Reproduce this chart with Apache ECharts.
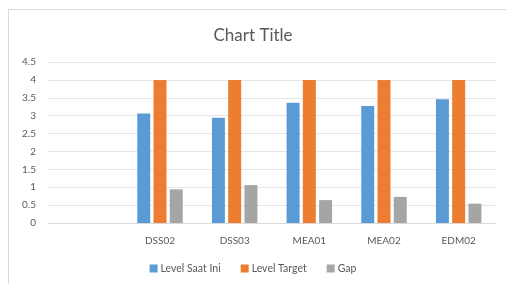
<!DOCTYPE html>
<html>
<head>
<meta charset="utf-8">
<script src="https://cdn.jsdelivr.net/npm/echarts@6/dist/echarts.min.js"></script>
<style>
  html, body { margin: 0; padding: 0; background: #fff; }
  #frame {
    position: absolute; left: 8px; top: 9px; width: 506px; height: 284px;
    border-left: 1px solid #d9d9d9; border-top: 1px solid #d9d9d9;
  }
  #chart { position: absolute; left: 0; top: 0; width: 506px; height: 284px; }
</style>
</head>
<body>
<div id="frame"></div>
<div id="chart"></div>
<script>
// kategori (slot pertama kosong seperti di Excel)
var categories = ["", "DSS02", "DSS03", "MEA01", "MEA02", "EDM02"];
var levelSaatIni = [null, 3.06, 2.94, 3.36, 3.27, 3.46];
var levelTarget = [null, 4, 4, 4, 4, 4];
var gap = [null, 0.94, 1.06, 0.64, 0.73, 0.54];
var yTicks = { min: 0, max: 4.5, interval: 0.5 };

var font = "Lato, 'Open Sans', sans-serif";
var myChart = echarts.init(document.getElementById("chart"));
myChart.setOption({
  animation: false,
  color: ["#5b9bd5", "#ed7d31", "#a5a5a5"],
  title: {
    text: "Chart Title",
    left: "center",
    top: 22,
    textStyle: { fontFamily: font, fontSize: 17, fontWeight: "normal", color: "#595959" }
  },
  legend: {
    bottom: 5,
    left: "center",
    itemWidth: 8,
    itemHeight: 8,
    itemGap: 20,
    icon: "rect",
    textStyle: { fontFamily: font, fontSize: 10.5, color: "#595959", padding: [0, 0, 0, -2] },
    data: ["Level Saat Ini", "Level Target", "Gap"]
  },
  grid: { left: 48, right: 10, top: 62, bottom: 61, containLabel: false },
  xAxis: {
    type: "category",
    data: categories,
    axisTick: { show: false },
    axisLine: { lineStyle: { color: "#d9d9d9" } },
    axisLabel: { fontFamily: font, fontSize: 10, color: "#595959", margin: 13 }
  },
  yAxis: {
    type: "value",
    min: yTicks.min,
    max: yTicks.max,
    interval: yTicks.interval,
    axisLine: { show: false },
    axisTick: { show: false },
    splitLine: { lineStyle: { color: "#e6e6e6" } },
    axisLabel: { fontFamily: font, fontSize: 10, color: "#595959", margin: 12 }
  },
  series: [
    { name: "Level Saat Ini", type: "bar", barWidth: 13, barGap: "25%", data: levelSaatIni },
    { name: "Level Target", type: "bar", barWidth: 13, barGap: "25%", data: levelTarget },
    { name: "Gap", type: "bar", barWidth: 13, barGap: "25%", data: gap }
  ]
});
</script>
</body>
</html>
